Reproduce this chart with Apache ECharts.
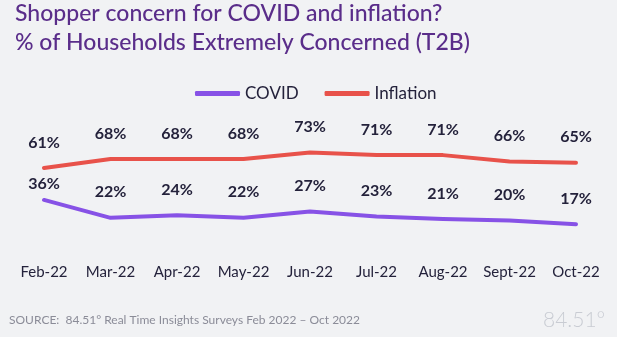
<!DOCTYPE html>
<html>
<head>
<meta charset="utf-8">
<script src="https://cdn.jsdelivr.net/npm/echarts@6/dist/echarts.min.js"></script>
<style>
  html, body { margin: 0; padding: 0; background: #f1f2f4; }
  #chart { width: 617px; height: 337px; }
</style>
</head>
<body>
<div id="chart"></div>
<script>
// Survey months
const categories = ['Feb-22', 'Mar-22', 'Apr-22', 'May-22', 'Jun-22', 'Jul-22', 'Aug-22', 'Sept-22', 'Oct-22'];
// % of households extremely concerned (top two box)
const covid = [36, 22, 24, 22, 27, 23, 21, 20, 17];
const inflation = [61, 68, 68, 68, 73, 71, 71, 66, 65];

const FONT = 'Lato, "Noto Sans", sans-serif';
const INK = '#24223b';

const labelStyle = {
  show: true,
  position: 'top',
  distance: 16,
  formatter: '{c}%',
  color: INK,
  fontSize: 16,
  fontWeight: 'bold',
  fontFamily: FONT,
  lineHeight: 18
};

// COVID's first label sits closer to its point to clear the inflation line
const covidData = covid.map((v, i) =>
  i === 0 ? { value: v, label: { distance: 7 } } : v
);

function lineSeries(name, data, color) {
  return {
    name: name,
    type: 'line',
    data: data,
    symbol: 'circle',
    symbolSize: 1,
    showSymbol: true,
    itemStyle: { color: color },
    lineStyle: { color: color, width: 4, cap: 'round', join: 'round' },
    label: labelStyle,
    emphasis: { disabled: true }
  };
}

const chart = echarts.init(document.getElementById('chart'), null, { renderer: 'canvas' });
chart.setOption({
  backgroundColor: '#f1f2f4',
  animation: false,
  title: {
    text: 'Shopper concern for COVID and inflation?\n% of Households Extremely Concerned (T2B)',
    left: 10,
    top: -6,
    textStyle: {
      color: '#5a2d8a',
      fontSize: 23,
      fontWeight: 500,
      fontFamily: FONT,
      lineHeight: 29
    }
  },
  legend: {
    left: 190,
    top: 80,
    itemWidth: 45,
    itemHeight: 5,
    itemGap: 26,
    icon: 'roundRect',
    textStyle: { color: INK, fontSize: 17, fontFamily: FONT },
    data: ['COVID', 'Inflation']
  },
  grid: { left: 44, right: 41, top: 118, bottom: 91 },
  xAxis: {
    type: 'category',
    data: categories,
    boundaryGap: false,
    axisLine: { show: false },
    axisTick: { show: false },
    axisLabel: { color: INK, fontSize: 15, fontFamily: FONT, margin: 19, interval: 0 }
  },
  yAxis: {
    type: 'value',
    min: 0,
    max: 100,
    show: false,
    splitLine: { show: false }
  },
  series: [
    lineSeries('COVID', covidData, '#8752e6'),
    lineSeries('Inflation', inflation, '#e8524a')
  ],
  graphic: [
    {
      type: 'text',
      left: 9,
      top: 314,
      style: {
        text: 'SOURCE:  84.51\u00b0 Real Time Insights Surveys Feb 2022 \u2013 Oct 2022',
        fill: '#8b8c98',
        font: '12px ' + FONT
      }
    },
    {
      type: 'text',
      left: 543,
      top: 310,
      style: {
        text: '84.51\u00b0',
        fill: '#c9ccd3',
        font: '300 21px ' + FONT
      }
    }
  ]
});
</script>
</body>
</html>
